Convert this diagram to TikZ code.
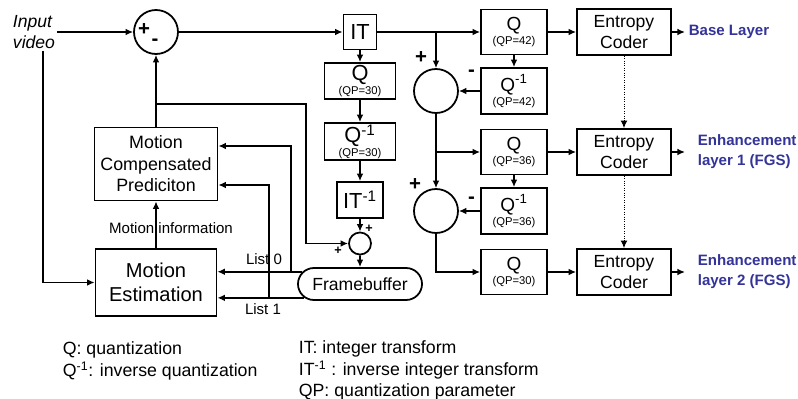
\documentclass[tikz,border=0pt]{standalone}
\usepackage{fontspec}
\setmainfont{Liberation Sans}
\usetikzlibrary{arrows.meta,shapes.misc}
\definecolor{layerblue}{RGB}{51,51,153}
\newcommand{\qpval}[1]{{\fontsize{8}{8}\selectfont (QP=#1)}}
\begin{document}
\begin{tikzpicture}[
  x=0.025cm, y=-0.025cm, line width=1.25pt,
  >={Latex[length=1.9mm,width=1.7mm]},
  box/.style={draw, rectangle, align=center, inner sep=0pt},
  lbox/.style={box, minimum width=1.775cm, minimum height=0.9cm, font=\fontsize{15.5}{7}\selectfont},
  rbox/.style={box, minimum width=1.65cm, minimum height=1.125cm, font=\fontsize{13.5}{10}\selectfont},
  coder/.style={box, minimum width=2.35cm, minimum height=1.15cm, font=\fontsize{12.5}{15.5}\selectfont},
  sum/.style={draw, circle, inner sep=0pt, minimum size=1.1cm},
  sign/.style={inner sep=0pt, font=\fontsize{14.5}{14.5}\selectfont\bfseries},
  tinysign/.style={inner sep=0pt, font=\fontsize{9}{9}\selectfont\bfseries},
  lbl/.style={inner sep=0pt, font=\fontsize{10.7}{13}\selectfont},
  layer/.style={anchor=west, inner ysep=0pt, align=left, text=layerblue, font=\fontsize{10.7}{14.2}\selectfont\bfseries},
  legend/.style={inner sep=0pt, anchor=north west, align=left, font=\fontsize{12.6}{15.3}\selectfont}
]
\useasboundingbox (0,0) rectangle (798,399);
\node[inner sep=1pt, align=left, font=\fontsize{12.5}{15.5}\selectfont\itshape] (input) at (34,32) {Input\\video};
\node[sum] (sum1) at (156,32) {};
\node[sign] at (144,30) {+};
\node[sign] at (155,42) {-};
\node[box, minimum width=0.825cm, minimum height=0.875cm, font=\fontsize{15.5}{15.5}\selectfont] (IT) at (360,32) {IT};
\node[lbox] (Q30) at (360,81) {Q\\\qpval{30}};
\node[lbox, minimum height=0.925cm] (Qi30) at (360,141.5) {Q\textsuperscript{-1}\\\qpval{30}};
\node[box, minimum width=1.15cm, minimum height=0.9cm, font=\fontsize{15.5}{15.5}\selectfont] (ITi) at (360,200) {IT\textsuperscript{-1}};
\node[sum, minimum size=0.55cm] (sum0) at (360,243.5) {};
\node[tinysign] at (369,229) {+};
\node[tinysign] at (338,251) {+};
\node[draw, rounded rectangle, inner sep=0pt, minimum width=3.1cm, minimum height=0.8cm, font=\fontsize{12.5}{15}\selectfont] (fb) at (360,284) {Framebuffer};
\node[box, minimum width=3.075cm, minimum height=1.825cm, font=\fontsize{12.7}{15.3}\selectfont] (mcp) at (156,164) {Motion\\Compensated\\Prediciton};
\node[box, minimum width=3.025cm, minimum height=1.675cm, font=\fontsize{14.3}{17}\selectfont] (me) at (156,282.5) {Motion\\Estimation};
\node[lbl] (minfo) at (171,228) {Motion information};
\node[lbl] (list0) at (264,259) {List 0};
\node[lbl] (list1) at (263,309) {List 1};

\node[rbox] (Q42) at (514,32) {Q\\\qpval{42}};
\node[rbox, minimum height=1.15cm] (Qi42) at (514,91) {Q\textsuperscript{-1}\\\qpval{42}};
\node[sum] (sum2) at (436,91) {};
\node[sign] at (421,58) {+};
\node[sign] at (471.5,73.5) {-};
\node[coder] (EC1) at (624,32) {Entropy\\Coder};
\node[layer, inner xsep=2.1pt] (base) at (685,32) {Base Layer};
\node[rbox] (Q36) at (514,152) {Q\\\qpval{36}};
\node[coder] (EC2) at (624,152) {Entropy\\Coder};
\node[layer, inner xsep=8.5pt] (enh1) at (685,152) {Enhancement\\layer 1 (FGS)};
\node[rbox, minimum height=1.15cm] (Qi36) at (514,211) {Q\textsuperscript{-1}\\\qpval{36}};
\node[sum] (sum3) at (436,211) {};
\node[sign] at (415,185) {+};
\node[sign] at (471.5,200) {-};
\node[rbox] (Q30b) at (514,272) {Q\\\qpval{30}};
\node[coder] (EC3) at (624,272) {Entropy\\Coder};
\node[layer, inner xsep=8.5pt] (enh2) at (685,272) {Enhancement\\layer 2 (FGS)};

\node[legend] (keyq) at (62,341) {Q: quantization\\Q\textsuperscript{-1}: inverse quantization};
\node[legend] (keyit) at (298,340) {IT: integer transform\\IT\textsuperscript{-1} : inverse integer transform\\QP: quantization parameter};

\draw[->] (input) -- (sum1);
\draw[->] ([xshift=0.225cm]input.south) |- (me);
\draw[->] (sum1) -- (IT);
\draw[->] (IT) -- (Q42);
\draw[->] (IT) -- (Q30);
\draw[->] (Q30) -- (Qi30);
\draw[->] (Qi30) -- (ITi);
\draw[->] (ITi) -- (sum0);
\draw[->] (sum0) -- (fb);
\draw[->] (mcp) -- (sum1);
\draw[->] (me) -- (mcp);
\draw[->] (mcp.north |- 0,104) -| (306,243.5) -- (sum0);
\draw[->] (fb.168) -- (me.east |- fb.168);
\draw[->] (fb.194) -- (me.east |- fb.194);
\draw[->] (fb.168 -| 291,0) |- ([yshift=0.45cm]mcp.east);
\draw[->] (fb.194 -| 269,0) |- ([yshift=-0.525cm]mcp.east);

\draw[->] (sum2 |- IT) -- (sum2);
\draw[->] (Q42) -- (Qi42);
\draw[->] (Qi42) -- (sum2);
\draw[->] (Q42) -- (EC1);
\draw[->] (EC1) -- (base);
\draw[->] (sum2) |- (Q36);
\draw[->] (sum2 |- Q36) -- (sum3);
\draw[->] (Q36) -- (EC2);
\draw[->] (EC2) -- (enh1);
\draw[->] (Q36) -- (Qi36);
\draw[->] (Qi36) -- (sum3);
\draw[->] (sum3) |- (Q30b);
\draw[->] (Q30b) -- (EC3);
\draw[->] (EC3) -- (enh2);
\draw[->, densely dotted, line width=0.7pt] (EC1) -- (EC2);
\draw[->, densely dotted, line width=0.7pt] (EC2) -- (EC3);
\end{tikzpicture}
\end{document}
